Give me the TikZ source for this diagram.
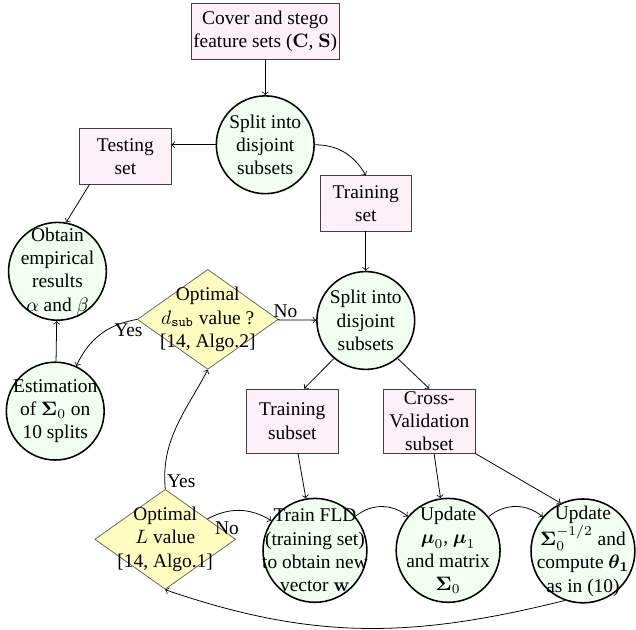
\documentclass[tikz,border=0pt]{standalone}
\usepackage{amsmath}
\usepackage[no-math]{fontspec}
\setmainfont{Liberation Serif}
\usepackage{xcolor}
\usepackage{tikz}
\usetikzlibrary{shapes.geometric}

\begin{document}
\begin{tikzpicture}[align=center]
        \tikzset{setbox/.style={rectangle,draw=black!75,fill=magenta!6,minimum width=1.65cm,minimum height=1cm,inner sep=1pt}};
        \tikzset{subbox/.style={setbox,minimum height=1.16cm}};
        \tikzset{proc/.style={circle,draw,thick,fill=green!6,minimum size=1.77cm,inner sep=-1cm}};
        \tikzset{bigproc/.style={proc,minimum size=1.88cm}};
        \tikzset{decision/.style={diamond,draw=black!60,fill=yellow!25,aspect=1.4,minimum width=2.55cm,minimum height=1.81cm,inner sep=-8pt}};
        \tikzset{answer/.style={inner sep=1pt}};

        \useasboundingbox (0,0) rectangle (11.51,-11.40);

        \node [setbox,minimum width=2.64cm] (cover) at (4.80,-0.57) {Cover and stego\\feature sets ($\mathbf{C}$, $\mathbf{S}$)};
        \node [proc] (split1) at (4.80,-2.62) {Split into\\disjoint\\subsets};
        \node [setbox] (testing) at (2.27,-2.83) {Testing\\set};
        \node [setbox] (trainset) at (6.62,-3.68) {Training\\set};
        \node [proc] (obtain) at (1.04,-4.91) {Obtain\\empirical\\results\\$\alpha$ and $\beta$};
        \node [decision] (dsub) at (3.76,-5.78) {Optimal\\$d_{\mathtt{sub}}$ value ?\\{[14, Algo.2]}};
        \node [proc] (split2) at (6.62,-5.80) {Split into\\disjoint\\subsets};
        \node [proc] (estim) at (1.00,-7.44) {Estimation\\of $\mathbf{\Sigma}_0$ on\\10 splits};
        \node [subbox] (trsub) at (5.29,-7.62) {Training\\subset};
        \node [subbox] (cvsub) at (7.77,-7.62) {Cross-\\Validation\\subset};
        \node [decision] (optL) at (2.99,-9.76) {Optimal\\$L$ value\\{[14, Algo.1]}};
        \node [bigproc] (fld) at (5.70,-9.96) {Train FLD\\(training set)\\to obtain new\\vector $\mathbf{w}$};
        \node [bigproc] (updmu) at (8.11,-9.96) {Update\\$\boldsymbol{\mu}_0$, $\boldsymbol{\mu}_1$\\and matrix\\$\mathbf{\Sigma}_0$};
        \node [bigproc] (updsig) at (10.55,-9.97) {Update\\$\mathbf{\Sigma}_0^{-1/2}$ and\\compute $\boldsymbol{\theta_1}$\\as in (10)};

        % top part
        \draw [->] (cover) -- (split1);
        \draw [->] (split1) -- (split1 -| testing.east);
        \draw [->] (split1.east) to [out=0,in=120] (trainset.north);
        \draw [->] (testing.218) -- (obtain.80);
        \draw [->] (trainset) -- (split2);
        \draw [->] (dsub) -- node [answer,above,pos=0.2] {No} (split2);
        \draw [->] (dsub.west) to [out=190,in=65] node [answer,below,pos=0.1] {Yes} (estim);
        \draw [->] (estim) -- (obtain);

        % training loop
        \draw [->] (split2.230) -- (trsub.70);
        \draw [->] (split2.310) -- (cvsub.north);
        \draw [->] (trsub) -- (fld);
        \draw [->] (cvsub) -- (updmu);
        \draw [->] (cvsub.south east) -- (updsig.115);
        \draw [->] (optL) to [bend left] node [answer,below,pos=0.3,yshift=-1.5mm] {No} (fld);
        \draw [->] (fld) to [bend left=40] (updmu);
        \draw [->] (updmu) to [bend left=40] (updsig);
        \draw [->] (updsig.250) to [out=194,in=-19] (optL.south);
        \draw [->] (optL.north) to [out=95,in=242] node [answer,right,pos=0.05] {Yes} (dsub.south);
    \end{tikzpicture}
\end{document}
